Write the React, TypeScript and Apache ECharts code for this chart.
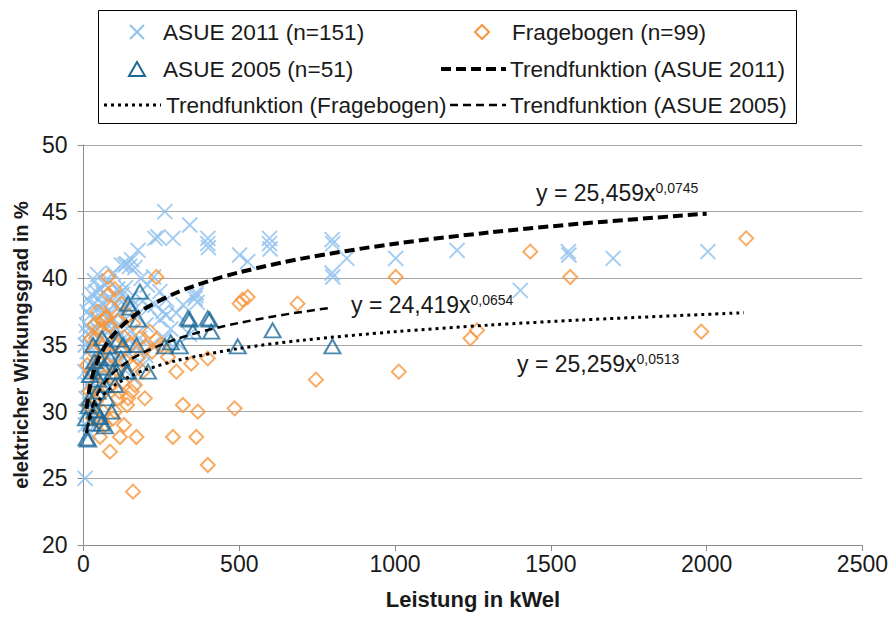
import React, { useEffect, useRef } from 'react';
import * as echarts from 'echarts';

// ---- data (x = Leistung in kWel, y = elektrischer Wirkungsgrad in %) ----
const asue2011: number[][] = [
  [5, 25.0], [261, 45.0], [341, 44.0], [239, 43.1], [287, 43.0], [229, 43.0], [399, 43.0], [399, 42.6], [401, 42.3],
  [501, 41.75], [527, 41.25], [597, 43.0], [597, 42.6], [599, 42.2], [798, 42.9], [800, 42.6], [798, 40.4], [800, 40.1],
  [845, 41.5], [1002, 41.5], [1199, 42.1], [1402, 39.1], [1556, 42.0], [1558, 41.75], [1700, 41.5], [2004, 42.0],
  [175, 42.1], [154, 41.4], [138, 41.1], [122, 41.0], [133, 41.0], [148, 40.9], [165, 40.8], [95, 40.4], [53, 39.25],
  [63, 38.9], [245, 39.0], [362, 38.9], [358, 38.5], [365, 38.2], [360, 38.7], [298, 37.4], [245, 36.9], [266, 38.4],
  [266, 37.25], [10, 36.5], [15, 35.8], [20, 37.2], [25, 36.0], [30, 38.0], [35, 37.0], [40, 39.0], [45, 36.2],
  [50, 37.8], [55, 35.5], [60, 38.2], [65, 36.8], [70, 39.5], [75, 37.5], [80, 36.0], [85, 38.5], [90, 35.2],
  [95, 37.0], [100, 38.0], [105, 36.3], [110, 39.2], [115, 37.5], [120, 35.8], [125, 38.8], [130, 36.8], [140, 37.8],
  [150, 36.0], [160, 38.0], [170, 37.2], [180, 35.5], [190, 38.3], [200, 36.5], [210, 37.8], [220, 35.0], [230, 38.0],
  [12, 34.5], [18, 33.5], [25, 34.8], [32, 32.5], [40, 34.0], [48, 33.2], [58, 34.5], [68, 33.0], [78, 34.2],
  [88, 33.8], [100, 34.6], [115, 34.0], [130, 35.2], [145, 34.4], [8, 31.0], [14, 32.0], [20, 30.5], [28, 31.5],
  [35, 30.0], [45, 31.8], [55, 32.2], [6, 29.0], [10, 30.0], [16, 28.5], [22, 29.5], [30, 29.2], [4, 33.0], [6, 35.0],
  [8, 36.0], [12, 37.5], [18, 38.3], [26, 38.8], [36, 39.8], [45, 40.3], [64, 38.0], [82, 39.8], [72, 36.2], [92, 36.8],
  [108, 37.9], [118, 38.9], [135, 39.3], [152, 38.5], [185, 40.0], [205, 39.5], [225, 40.1], [255, 37.5], [280, 36.2],
  [320, 38.0], [340, 35.8], [260, 35.5], [300, 35.2], [200, 34.2], [170, 34.8], [160, 32.5], [190, 33.5]
];

const fragebogen: number[][] = [
  [79, 40.1], [234, 40.1], [501, 38.1], [527, 38.6], [511, 38.4], [687, 38.1], [122, 38.1], [74, 37.1], [1002, 40.1],
  [1434, 42.0], [1562, 40.1], [746, 32.4], [1012, 33.0], [1242, 35.5], [1263, 36.1], [2127, 43.0], [1983, 36.0],
  [399, 34.0], [346, 33.6], [298, 33.0], [271, 34.1], [319, 30.5], [367, 30.0], [485, 30.25], [287, 28.1], [362, 28.1],
  [399, 26.0], [159, 24.0], [170, 28.1], [117, 28.1], [85, 27.0], [53, 28.1], [197, 31.0], [143, 31.0], [165, 32.0],
  [101, 30.0], [63, 30.0], [213, 36.0], [234, 35.4], [69, 37.0], [154, 33.5], [175, 34.0], [20, 31.5], [25, 33.0],
  [30, 34.5], [35, 32.0], [40, 35.5], [45, 33.8], [50, 36.2], [55, 31.2], [60, 34.8], [65, 32.6], [70, 35.8], [75, 33.5],
  [80, 31.8], [85, 36.5], [90, 34.2], [95, 32.8], [100, 35.0], [105, 33.2], [110, 36.8], [115, 31.5], [120, 34.6],
  [125, 32.2], [130, 35.6], [135, 33.8], [140, 30.5], [150, 35.0], [160, 36.6], [180, 35.5], [190, 33.0], [200, 34.8],
  [220, 34.5], [250, 35.0], [60, 36.8], [45, 37.5], [90, 37.8], [15, 30.5], [30, 29.5], [40, 30.8], [70, 29.0],
  [95, 29.5], [130, 29.0], [50, 29.2], [80, 38.8], [100, 39.2], [110, 31.0], [155, 31.5], [145, 37.2], [12, 33.5],
  [25, 35.5], [35, 36.5]
];

const asue2005: number[][] = [
  [181, 39.0], [143, 38.1], [175, 36.9], [341, 36.9], [405, 36.9], [607, 36.1], [351, 36.0], [410, 36.0], [495, 34.9],
  [799, 34.9], [261, 34.9], [309, 34.9], [170, 35.0], [127, 35.0], [79, 34.9], [207, 33.0], [143, 33.0], [106, 33.0],
  [85, 34.0], [31, 33.0], [53, 34.0], [101, 32.0], [74, 31.0], [42, 30.1], [26, 29.1], [58, 29.1], [10, 28.0],
  [31, 35.0], [95, 33.0], [138, 33.0], [21, 32.75], [69, 32.0], [37, 30.1], [53, 29.6], [69, 28.9], [15, 27.9],
  [335, 37.0], [399, 37.0], [280, 35.2], [60, 35.5], [45, 31.5], [90, 30.0], [120, 34.0], [20, 31.0], [35, 33.8],
  [150, 37.8], [64, 33.3], [48, 32.4], [112, 35.4], [8, 29.5], [16, 30.4]
];

// trend curves
const trend2011: number[][] = [
  [10, 30.22], [15, 31.15], [20, 31.83], [30, 32.8], [40, 33.51], [50, 34.07], [75, 35.12], [100, 35.88], [150, 36.98],
  [200, 37.78], [300, 38.94], [400, 39.78], [500, 40.45], [700, 41.48], [1000, 42.6], [1300, 43.43], [1600, 44.11], [2000, 44.85]
];
const trendFrage: number[][] = [
  [10, 28.43], [15, 29.02], [20, 29.45], [30, 30.07], [40, 30.52], [50, 30.87], [75, 31.52], [100, 31.99], [150, 32.66],
  [200, 33.15], [300, 33.84], [500, 34.74], [700, 35.35], [1000, 36.0], [1300, 36.49], [1600, 36.88], [2120, 37.42]
];
const trend2005: number[][] = [
  [10, 28.39], [15, 29.15], [20, 29.7], [30, 30.5], [40, 31.08], [50, 31.54], [75, 32.39], [100, 33.0], [150, 33.89],
  [200, 34.53], [300, 35.46], [400, 36.13], [500, 36.66], [600, 37.1], [700, 37.48], [800, 37.81]
];

const seriesNames = [
  'ASUE 2011 (n=151)',
  'Fragebogen (n=99)',
  'ASUE 2005 (n=51)',
  'Trendfunktion (ASUE 2011)',
  'Trendfunktion (Fragebogen)',
  'Trendfunktion (ASUE 2005)'
];
const equationMain = ['y = 25,459x', 'y = 24,419x', 'y = 25,259x'];
const equationExp = ['0,0745', '0,0654', '0,0513'];

const FONT = '"Liberation Sans", Arial, sans-serif';
const C_2011 = '#8fc1ee';
const C_FRAGE = '#f7963c';
const C_2005 = '#1d6a98';
const X_PATH = 'path://M0,0L10,10M10,0L0,10';

const DASH_2011 = [10, 5];
const DASH_FRAGE = [3, 4];
const DASH_2005 = [8, 5];

function legendGraphics(): any[] {
  const txt = (x: number, y: number, s: string) => ({
    type: 'text',
    x,
    y,
    z: 100,
    style: { text: s, fontFamily: FONT, fontSize: 22.6, fill: '#1a1a1a', verticalAlign: 'middle', align: 'left' }
  });
  const hl = (x1: number, x2: number, y: number, w: number, dash: number[]) => ({
    type: 'line',
    z: 100,
    shape: { x1, y1: y, x2, y2: y },
    style: { stroke: '#000', lineWidth: w, lineDash: dash }
  });
  const r1 = 32;
  const r2 = 69;
  const r3 = 105;
  const xc = 137;
  const dc = 482;
  const h = 7;
  return [
    {
      type: 'rect',
      z: 100,
      shape: { x: 98.5, y: 10.5, width: 698, height: 113 },
      style: { fill: 'none', stroke: '#000', lineWidth: 1 }
    },
    // ASUE 2011 marker (x)
    { type: 'line', z: 100, shape: { x1: xc - h, y1: r1 - h, x2: xc + h, y2: r1 + h }, style: { stroke: C_2011, lineWidth: 2 } },
    { type: 'line', z: 100, shape: { x1: xc + h, y1: r1 - h, x2: xc - h, y2: r1 + h }, style: { stroke: C_2011, lineWidth: 2 } },
    txt(163, r1, seriesNames[0]),
    // Fragebogen marker (diamond)
    {
      type: 'polygon',
      z: 100,
      shape: { points: [[dc, r1 - 7], [dc + 7, r1], [dc, r1 + 7], [dc - 7, r1]] },
      style: { fill: 'none', stroke: C_FRAGE, lineWidth: 2 }
    },
    txt(512, r1, seriesNames[1]),
    // ASUE 2005 marker (triangle)
    {
      type: 'polygon',
      z: 100,
      shape: { points: [[xc, r2 - 7], [xc + 8, r2 + 7], [xc - 8, r2 + 7]] },
      style: { fill: 'none', stroke: C_2005, lineWidth: 2 }
    },
    txt(163, r2, seriesNames[2]),
    hl(441, 506, r2, 4, DASH_2011),
    txt(510, r2, seriesNames[3]),
    hl(104, 161, r3, 3, DASH_FRAGE),
    txt(166, r3, seriesNames[4]),
    hl(450, 506, r3, 2.5, DASH_2005),
    txt(510, r3, seriesNames[5])
  ];
}

export default function App() {
  const ref = useRef<HTMLDivElement>(null);
  useEffect(() => {
    const chart = echarts.init(ref.current as HTMLDivElement, null, { renderer: 'svg' });
    const eqPos = [
      { x: 536, y: 192 },
      { x: 351, y: 304 },
      { x: 517, y: 363 }
    ];
    chart.setOption({
      animation: false,
      backgroundColor: '#ffffff',
      textStyle: { fontFamily: FONT },
      grid: { left: 83.5, top: 145, width: 781.5, height: 400, containLabel: false },
      xAxis: {
        type: 'value',
        min: 0,
        max: 2500,
        interval: 500,
        name: 'Leistung in kWel',
        nameLocation: 'middle',
        nameGap: 43,
        nameTextStyle: { fontFamily: FONT, fontSize: 22, fontWeight: 'bold', color: '#1a1a1a' },
        axisLine: { show: true, lineStyle: { color: '#8c8c8c', width: 1 } },
        axisTick: { show: true, length: 6, lineStyle: { color: '#8c8c8c' } },
        axisLabel: { fontFamily: FONT, fontSize: 23, color: '#1a1a1a', margin: 7, formatter: (v: number) => String(v) },
        splitLine: { show: false }
      },
      yAxis: {
        type: 'value',
        min: 20,
        max: 50,
        interval: 5,
        name: 'elektricher Wirkungsgrad in %',
        nameLocation: 'middle',
        nameGap: 52,
        nameTextStyle: { fontFamily: FONT, fontSize: 20, fontWeight: 'bold', color: '#1a1a1a' },
        axisLine: { show: true, lineStyle: { color: '#8c8c8c', width: 1 } },
        axisTick: { show: true, length: 6, lineStyle: { color: '#8c8c8c' } },
        axisLabel: { fontFamily: FONT, fontSize: 23, color: '#1a1a1a', margin: 16 },
        splitLine: { show: true, lineStyle: { color: '#a6a6a6', width: 1 } }
      },
      graphic: [
        ...legendGraphics(),
        ...equationMain.map((m, i) => ({
          type: 'text',
          x: eqPos[i].x,
          y: eqPos[i].y,
          z: 100,
          style: {
            text: `{m|${m}}{s|${equationExp[i]}}`,
            verticalAlign: 'middle',
            rich: {
              m: { fontFamily: FONT, fontSize: 23, fill: '#1a1a1a', verticalAlign: 'bottom', lineHeight: 24 },
              s: { fontFamily: FONT, fontSize: 14, fill: '#1a1a1a', verticalAlign: 'top', lineHeight: 16, padding: [1, 0, 0, 0] }
            }
          }
        }))
      ],
      series: [
        {
          name: seriesNames[0],
          type: 'scatter',
          data: asue2011,
          symbol: X_PATH,
          symbolSize: 15,
          itemStyle: { color: 'transparent', borderColor: C_2011, borderWidth: 2 },
          z: 2
        },
        {
          name: seriesNames[1],
          type: 'scatter',
          data: fragebogen,
          symbol: 'diamond',
          symbolSize: 14,
          itemStyle: { color: 'transparent', borderColor: C_FRAGE, borderWidth: 2 },
          z: 3
        },
        {
          name: seriesNames[2],
          type: 'scatter',
          data: asue2005,
          symbol: 'triangle',
          symbolSize: [16, 14],
          itemStyle: { color: 'transparent', borderColor: C_2005, borderWidth: 2 },
          z: 4
        },
        {
          name: seriesNames[3],
          type: 'line',
          data: trend2011,
          symbol: 'none',
          smooth: 0.3,
          lineStyle: { color: '#000', width: 4, type: DASH_2011 },
          z: 5
        },
        {
          name: seriesNames[4],
          type: 'line',
          data: trendFrage,
          symbol: 'none',
          smooth: 0.3,
          lineStyle: { color: '#000', width: 3, type: DASH_FRAGE },
          z: 5
        },
        {
          name: seriesNames[5],
          type: 'line',
          data: trend2005,
          symbol: 'none',
          smooth: 0.3,
          lineStyle: { color: '#000', width: 2.5, type: DASH_2005 },
          z: 5
        }
      ]
    });
    return () => chart.dispose();
  }, []);
  return (
    <div
      ref={ref}
      style={{ position: 'fixed', left: 0, top: 0, width: 891, height: 617, background: '#fff' }}
    />
  );
}
